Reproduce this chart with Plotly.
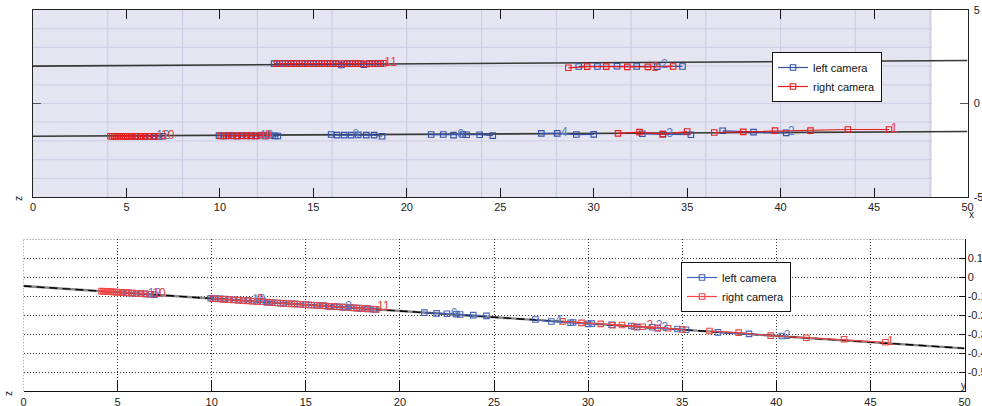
import plotly.graph_objects as go

# ---------------- data ----------------
# left camera (blue) points: x, y (top view), z (side view), track id
LEFT_X = [5.25, 5.5, 5.75, 6.0, 6.25, 6.5, 6.75, 6.95,
          9.95, 10.2, 10.45, 10.7, 10.95, 11.2, 11.45, 11.7, 11.95, 12.2, 12.45, 12.7, 12.95, 13.1,
          15.95, 16.27, 16.65, 17.02, 17.4, 17.83, 18.25, 18.68,
          21.3, 21.95, 22.5, 23.0, 23.2, 23.9, 24.6,
          27.2, 28.05, 29.07, 30.0,
          32.6, 33.7, 35.2,
          36.9, 38.55, 40.3,
          12.9, 13.2, 13.5, 13.8, 14.1, 14.4, 14.7, 15.0, 15.3, 15.6, 15.9, 16.2, 16.5, 16.8, 17.1, 17.4, 17.7, 18.0, 18.3, 18.6,
          29.2, 30.2, 31.25, 32.3, 33.4, 34.75]
LEFT_Y = [-1.75, -1.76, -1.75, -1.76, -1.75, -1.76, -1.75, -1.75,
          -1.72, -1.73, -1.72, -1.73, -1.73, -1.72, -1.73, -1.72, -1.73, -1.72, -1.73, -1.72, -1.73, -1.74,
          -1.66, -1.69, -1.69, -1.69, -1.68, -1.69, -1.69, -1.75,
          -1.66, -1.66, -1.69, -1.66, -1.67, -1.67, -1.72,
          -1.60, -1.60, -1.66, -1.65,
          -1.62, -1.64, -1.67,
          -1.46, -1.53, -1.57,
          2.13, 2.13, 2.14, 2.13, 2.13, 2.14, 2.13, 2.13, 2.14, 2.13, 2.13, 2.13, 2.06, 2.13, 2.13, 2.13, 2.08, 2.13, 2.13, 2.13,
          1.98, 1.98, 1.99, 1.98, 1.97, 1.98]
LEFT_Z = [-0.080, -0.082, -0.083, -0.085, -0.086, -0.088, -0.089, -0.091,
          -0.110, -0.112, -0.113, -0.115, -0.117, -0.118, -0.120, -0.122, -0.123, -0.125, -0.127, -0.128, -0.130, -0.131,
          -0.150, -0.153, -0.155, -0.157, -0.160, -0.162, -0.165, -0.168,
          -0.186, -0.190, -0.192, -0.194, -0.196, -0.199, -0.203,
          -0.222, -0.233, -0.239, -0.245,
          -0.262, -0.268, -0.276,
          -0.290, -0.298, -0.309,
          -0.131, -0.133, -0.135, -0.137, -0.139, -0.140, -0.142, -0.144, -0.146, -0.148, -0.150, -0.152, -0.154, -0.156, -0.158, -0.160, -0.162, -0.164, -0.166, -0.168,
          -0.238, -0.244, -0.250, -0.256, -0.263, -0.272]
LEFT_TRACK = [12] * 8 + [10] * 14 + [8] * 8 + [6] * 7 + [4] * 4 + [3] * 3 + [2] * 3 + [101] * 20 + [102] * 6

# right camera (red) points
RIGHT_X = [4.15, 4.25, 4.35, 4.45, 4.55, 4.65, 4.75, 4.85, 4.95, 5.05, 5.15, 5.3, 5.45, 5.6, 5.8, 6.0, 6.2, 6.45, 6.7,
           10.05, 10.35, 10.6, 10.9, 11.15, 11.4, 11.65, 11.9, 12.15, 12.4, 12.6,
           13.05, 13.35, 13.65, 13.95, 14.25, 14.55, 14.85, 15.15, 15.45, 15.75, 16.05, 16.35, 16.65, 16.95, 17.25, 17.55, 17.85, 18.15, 18.45, 18.75,
           28.64, 29.65, 30.67, 31.8, 32.9, 34.25,
           31.3, 32.45, 33.7, 35.0,
           36.45, 38.0, 39.7, 41.6, 43.6, 45.8]
RIGHT_Y = [-1.75, -1.75, -1.76, -1.75, -1.75, -1.76, -1.75, -1.75, -1.76, -1.75, -1.75, -1.76, -1.75, -1.75, -1.76, -1.75, -1.75, -1.76, -1.75,
           -1.73, -1.73, -1.72, -1.73, -1.73, -1.72, -1.73, -1.73, -1.72, -1.73, -1.72,
           2.13, 2.14, 2.13, 2.13, 2.14, 2.13, 2.13, 2.14, 2.13, 2.13, 2.14, 2.13, 2.13, 2.14, 2.13, 2.13, 2.12, 2.13, 2.14, 2.15,
           1.91, 1.97, 1.97, 1.96, 1.96, 1.98,
           -1.60, -1.53, -1.64, -1.50,
           -1.55, -1.52, -1.45, -1.45, -1.39, -1.39]
RIGHT_Z = [-0.073, -0.074, -0.074, -0.075, -0.075, -0.076, -0.077, -0.077, -0.078, -0.079, -0.079, -0.080, -0.081, -0.082, -0.083, -0.085, -0.086, -0.087, -0.089,
           -0.112, -0.114, -0.116, -0.118, -0.119, -0.121, -0.123, -0.124, -0.126, -0.128, -0.129,
           -0.132, -0.134, -0.136, -0.138, -0.140, -0.141, -0.143, -0.145, -0.147, -0.149, -0.151, -0.153, -0.155, -0.157, -0.159, -0.161, -0.163, -0.165, -0.167, -0.169,
           -0.232, -0.240, -0.245, -0.251, -0.260, -0.268,
           -0.252, -0.259, -0.266, -0.274,
           -0.283, -0.291, -0.307, -0.318, -0.326, -0.342]
RIGHT_TRACK = [10] * 19 + [9] * 11 + [111] * 20 + [112] * 6 + [3] * 4 + [1] * 6

# track labels
LABEL_TEXT = ["12", "10", "10", "9", "8", "6", "4", "3", "2", "1", "11", "2", "2"]
LABEL_CAM = ["left", "right", "left", "right", "left", "left", "left", "left", "left", "right", "right", "left", "right"]
LABEL_X = [6.6, 6.85, 12.15, 12.4, 17.1, 22.7, 28.25, 33.9, 40.4, 45.9, 18.8, 33.6, 33.1]
LABEL_Y = [-1.75, -1.75, -1.72, -1.72, -1.69, -1.68, -1.60, -1.64, -1.55, -1.39, 2.15, 2.05, 1.92]
LABEL_Z = [-0.088, -0.090, -0.120, -0.122, -0.158, -0.192, -0.228, -0.265, -0.310, -0.340, -0.157, -0.255, -0.258]

# fitted lane lines
LANE_X = [0, 50]
LANE_UPPER_Y = [2.0, 2.3]
LANE_LOWER_Y = [-1.75, -1.5]
LANE_Z = [-0.046, -0.374]

# road plane patch in top view
PLANE_X = [0, 48.1]
PLANE_Y = [-5, 5]
MESH_X = [4, 8, 12, 16, 20, 24, 28, 32, 36, 40, 44, 48]
MESH_Y = [-4, -3, -2, -1, 0, 1, 2, 3, 4]

X_TICKS = [0, 5, 10, 15, 20, 25, 30, 35, 40, 45, 50]
TOP_Y_TICKS = [-5, 0, 5]
BOT_Y_TICKS = [0.1, 0, -0.1, -0.2, -0.3, -0.4, -0.5]

# ---------------- styles ----------------
W, H = 982, 406
FONT = "Liberation Sans, Arial, sans-serif"
BLUE = "rgb(50,80,170)"
RED = "rgb(232,30,30)"
BLUE2 = "rgb(70,100,185)"
RED2 = "rgb(238,70,70)"
LBL_BLUE = "rgb(90,120,195)"
LBL_RED = "rgb(232,60,60)"


def split_tracks(xs, ys, tracks):
    ox, oy = [], []
    prev = None
    for x, y, t in zip(xs, ys, tracks):
        if prev is not None and t != prev:
            ox.append(None)
            oy.append(None)
        ox.append(x)
        oy.append(y)
        prev = t
    return ox, oy


fig = go.Figure()

# lane lines
for ly in (LANE_UPPER_Y, LANE_LOWER_Y):
    fig.add_trace(go.Scatter(x=LANE_X, y=ly, mode="lines", line=dict(color="#383838", width=1.6),
                             showlegend=False, hoverinfo="skip", xaxis="x", yaxis="y"))
fig.add_trace(go.Scatter(x=LANE_X, y=LANE_Z, mode="lines", line=dict(color="#8a8a8a", width=2.4),
                         showlegend=False, hoverinfo="skip", xaxis="x2", yaxis="y2"))
fig.add_trace(go.Scatter(x=LANE_X, y=LANE_Z, mode="lines", line=dict(color="#000000", width=1.4, dash="8px,5px"),
                         showlegend=False, hoverinfo="skip", xaxis="x2", yaxis="y2"))

# camera tracks, top view
lx, ly = split_tracks(LEFT_X, LEFT_Y, LEFT_TRACK)
rx, ry = split_tracks(RIGHT_X, RIGHT_Y, RIGHT_TRACK)
fig.add_trace(go.Scatter(x=lx, y=ly, mode="lines+markers", name="left camera",
                         line=dict(color=BLUE, width=1.2),
                         marker=dict(symbol="square-open", size=5.5, color=BLUE, line=dict(width=1.1)),
                         xaxis="x", yaxis="y", legend="legend"))
fig.add_trace(go.Scatter(x=rx, y=ry, mode="lines+markers", name="right camera",
                         line=dict(color=RED, width=1.2),
                         marker=dict(symbol="square-open", size=5.5, color=RED, line=dict(width=1.1)),
                         xaxis="x", yaxis="y", legend="legend"))

# camera tracks, side view
lx2, lz = split_tracks(LEFT_X, LEFT_Z, LEFT_TRACK)
rx2, rz = split_tracks(RIGHT_X, RIGHT_Z, RIGHT_TRACK)
fig.add_trace(go.Scatter(x=lx2, y=lz, mode="lines+markers", name="left camera",
                         line=dict(color=BLUE2, width=1.2),
                         marker=dict(symbol="square-open", size=5.5, color=BLUE2, line=dict(width=1.1)),
                         xaxis="x2", yaxis="y2", legend="legend2"))
fig.add_trace(go.Scatter(x=rx2, y=rz, mode="lines+markers", name="right camera",
                         line=dict(color=RED2, width=1.2),
                         marker=dict(symbol="square-open", size=5.5, color=RED2, line=dict(width=1.1)),
                         xaxis="x2", yaxis="y2", legend="legend2"))

# labels
lbl_colors = [LBL_BLUE if c == "left" else LBL_RED for c in LABEL_CAM]
fig.add_trace(go.Scatter(x=LABEL_X, y=LABEL_Y, mode="text", text=LABEL_TEXT, textposition="middle right",
                         textfont=dict(family=FONT, size=12, color=lbl_colors),
                         showlegend=False, hoverinfo="skip", xaxis="x", yaxis="y"))
fig.add_trace(go.Scatter(x=LABEL_X, y=LABEL_Z, mode="text", text=LABEL_TEXT, textposition="middle right",
                         textfont=dict(family=FONT, size=12, color=lbl_colors),
                         showlegend=False, hoverinfo="skip", xaxis="x2", yaxis="y2"))

# shapes: road plane + mesh (top), dotted borders (bottom)
shapes = [dict(type="rect", xref="x", yref="y", x0=PLANE_X[0], x1=PLANE_X[1], y0=PLANE_Y[0], y1=PLANE_Y[1],
               fillcolor="#E5E5F1", line=dict(width=0), layer="below")]
for my in MESH_Y:
    shapes.append(dict(type="line", xref="x", yref="y", x0=PLANE_X[0], x1=PLANE_X[1], y0=my, y1=my,
                       line=dict(color="#D0D0E6", width=1.2), layer="below"))
for mx in MESH_X:
    shapes.append(dict(type="line", xref="x", yref="y", x0=mx, x1=mx, y0=PLANE_Y[0], y1=PLANE_Y[1],
                       line=dict(color="#CCCCE4", width=1.2), layer="below"))
shapes.append(dict(type="line", xref="x2", yref="y2", x0=0, x1=50, y0=0.2, y1=0.2,
                   line=dict(color="#333", width=1, dash="1px,2px"), layer="below"))
shapes.append(dict(type="line", xref="x2", yref="y2", x0=0, x1=0, y0=-0.6, y1=0.2,
                   line=dict(color="#333", width=1, dash="1px,2px"), layer="below"))

top_dom_x = [33 / W, 967.5 / W]
top_dom_y = [(H - 197) / H, (H - 10) / H]
bot_dom_x = [23.5 / W, 964.5 / W]
bot_dom_y = [(H - 391.3) / H, (H - 239.3) / H]

tickfont = dict(family=FONT, size=11, color="#222")

fig.update_layout(
    width=W, height=H, margin=dict(l=0, r=0, t=0, b=0, autoexpand=False),
    paper_bgcolor="white", plot_bgcolor="white",
    font=dict(family=FONT, size=11, color="#222"),
    shapes=shapes,
    xaxis=dict(domain=top_dom_x, range=[0, 50], anchor="y", tickvals=X_TICKS, automargin=False,
               ticktext=[str(v) for v in X_TICKS], ticks="inside", ticklen=9, tickcolor="#111",
               showline=True, linecolor="#222", linewidth=1, mirror="ticks",
               showgrid=False, zeroline=False, tickfont=tickfont),
    yaxis=dict(domain=top_dom_y, range=[-5, 5], anchor="x", side="right", tickvals=TOP_Y_TICKS, automargin=False,
               ticktext=[str(v) for v in TOP_Y_TICKS], ticks="inside", ticklen=8, tickcolor="#555",
               showline=True, linecolor="#222", linewidth=1, mirror="ticks", ticklabelstandoff=3,
               showgrid=False, zeroline=False, tickfont=tickfont),
    xaxis2=dict(domain=bot_dom_x, range=[0, 50], anchor="y2", tickvals=X_TICKS, automargin=False,
                ticktext=[str(v) for v in X_TICKS], ticks="inside", ticklen=11, tickcolor="#111",
                showline=True, linecolor="#111", linewidth=1, mirror=False,
                showgrid=True, gridcolor="#333", gridwidth=1, griddash="1px,2px",
                zeroline=False, tickfont=tickfont),
    yaxis2=dict(domain=bot_dom_y, range=[-0.6, 0.2], anchor="x2", side="right", tickvals=BOT_Y_TICKS, automargin=False,
                ticktext=[("%g" % v) for v in BOT_Y_TICKS], ticks="inside", ticklen=6, tickcolor="#111",
                showline=True, linecolor="#111", linewidth=1, mirror=False,
                showgrid=True, gridcolor="#333", gridwidth=1, griddash="1px,2px",
                zeroline=False, tickfont=tickfont),
    legend=dict(x=772 / W, y=(H - 52) / H, xanchor="left", yanchor="top",
                bgcolor="white", bordercolor="#111", borderwidth=1,
                font=dict(family=FONT, size=11, color="#111"), tracegroupgap=0, itemwidth=30),
    legend2=dict(x=681 / W, y=(H - 262) / H, xanchor="left", yanchor="top",
                 bgcolor="white", bordercolor="#111", borderwidth=1,
                 font=dict(family=FONT, size=11, color="#111"), tracegroupgap=0, itemwidth=30),
    annotations=[
        dict(text="z", x=18 / W, y=(H - 199) / H, xref="paper", yref="paper", showarrow=False,
             xanchor="center", yanchor="middle",
             textangle=-90, font=dict(family=FONT, size=10, color="#222")),
        dict(text="x", x=971 / W, y=(H - 214) / H, xref="paper", yref="paper", showarrow=False,
             xanchor="center", yanchor="middle",
             font=dict(family=FONT, size=10, color="#222")),
        dict(text="z", x=8 / W, y=(H - 393) / H, xref="paper", yref="paper", showarrow=False,
             xanchor="center", yanchor="middle",
             textangle=-90, font=dict(family=FONT, size=10, color="#222")),
        dict(text="y", x=963 / W, y=(H - 385) / H, xref="paper", yref="paper", showarrow=False,
             xanchor="center", yanchor="middle",
             font=dict(family=FONT, size=10, color="#222")),
    ],
)

fig.write_html("out.html", config={"displayModeBar": False, "staticPlot": True},
               post_script="document.body.style.margin='0px';document.body.style.overflow='hidden';")
